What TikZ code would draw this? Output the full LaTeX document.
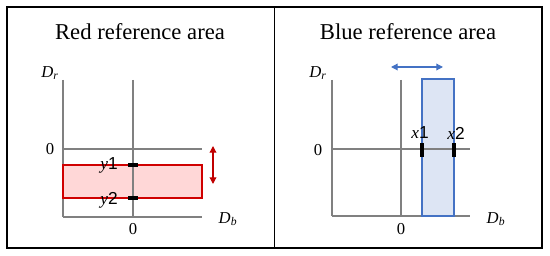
\documentclass[tikz,border=0pt]{standalone}
\usepackage{fontspec}
\setmainfont{Liberation Serif}
\newfontfamily\digitfont{Liberation Sans}
\usetikzlibrary{arrows.meta}
\definecolor{axisgray}{HTML}{808080}
\definecolor{redline}{HTML}{D00000}
\definecolor{redfill}{HTML}{FFD7D7}
\definecolor{darkred}{HTML}{C00000}
\definecolor{blueline}{HTML}{4472C4}
\definecolor{bluefill}{HTML}{DDE5F4}
\tikzset{
  frame/.style={line width=1.1pt, black},
  axis/.style={line width=0.8pt, axisgray},
  titletext/.style={font=\fontsize{17}{20}\selectfont, inner sep=0pt},
  lbl/.style={font=\fontsize{12.5}{14}\selectfont, inner sep=0pt},
  ticklbl/.style={font=\fontsize{13}{15}\selectfont, inner sep=0pt},
  tickbar/.style={line width=2.6pt, black},
  dblarrow/.style={line width=0.9pt, {Triangle[length=5pt,width=5pt]}-{Triangle[length=5pt,width=5pt]}},
}
\newcommand{\ylab}[1]{\textit{y}{\digitfont #1}}
\newcommand{\xlab}[1]{\textit{x}{\digitfont #1}}
\newcommand{\axlab}[1]{{\itshape D\textsubscript{#1}}}
\begin{document}
\begin{tikzpicture}[x=0.75pt,y=-0.75pt]
\useasboundingbox (0,0) rectangle (550,256);
% frames
\draw[frame] (7,7) rectangle (542,248);
\draw[frame] (274.5,7) -- (274.5,248);

% ---------- left panel ----------
\node[titletext] (tl) at (140,32) {Red reference area};
\coordinate (la1) at (63,80);  \coordinate (la2) at (63,217);
\coordinate (lm1) at (133,80); \coordinate (lm2) at (133,217);
\coordinate (lh1) at (63,149); \coordinate (lh2) at (202,149);
\coordinate (lb1) at (63,217); \coordinate (lb2) at (202,217);
\coordinate (rr1) at (63,165); \coordinate (rr2) at (202,198);
\fill[redfill] (rr1) rectangle (rr2);
\draw[axis] (la1) -- (la2);
\draw[axis] (lm1) -- (lm2);
\draw[axis] (lh1) -- (lh2);
\draw[axis] (lb1) -- (lb2);
\draw[redline, line width=0.9pt] (rr1) rectangle (rr2);
\coordinate (t1a) at (128,165); \coordinate (t1b) at (138,165);
\coordinate (t2a) at (128,198); \coordinate (t2b) at (138,198);
\draw[tickbar] (t1a) -- (t1b);
\draw[tickbar] (t2a) -- (t2b);
\node[ticklbl, anchor=east] (y1) at (118,165) {\ylab{1}};
\node[ticklbl, anchor=east] (y2) at (118,200) {\ylab{2}};
\node[lbl] (ldr) at (50,73) {\axlab{r}};
\node[lbl] (l0y) at (50,149) {0};
\node[lbl] (l0x) at (133,229) {0};
\node[lbl] (ldb) at (228,219) {\axlab{b}};
\coordinate (ra1) at (213,146); \coordinate (ra2) at (213,184);
\draw[dblarrow, darkred] (ra1) -- (ra2);

% ---------- right panel ----------
\node[titletext] (tr) at (408,32) {Blue reference area};
\coordinate (ra1b) at (332,80);  \coordinate (ra2b) at (332,216);
\coordinate (rm1) at (401,80); \coordinate (rm2) at (401,216);
\coordinate (rh1) at (332,149); \coordinate (rh2) at (470,149);
\coordinate (rb1) at (332,216); \coordinate (rb2) at (470,216);
\coordinate (br1) at (422,79); \coordinate (br2) at (454,216);
\fill[bluefill] (br1) rectangle (br2);
\draw[axis] (ra1b) -- (ra2b);
\draw[axis] (rm1) -- (rm2);
\draw[axis] (rh1) -- (rh2);
\draw[axis] (rb1) -- (rb2);
\draw[blueline, line width=0.9pt] (br1) rectangle (br2);
\coordinate (u1a) at (422,143); \coordinate (u1b) at (422,157);
\coordinate (u2a) at (454,143); \coordinate (u2b) at (454,157);
\draw[tickbar] (u1a) -- (u1b);
\draw[tickbar] (u2a) -- (u2b);
\node[ticklbl] (x1) at (420,133) {\xlab{1}};
\node[ticklbl] (x2) at (456,133) {\xlab{2}};
\node[lbl] (rdr) at (318,73) {\axlab{r}};
\node[lbl] (r0y) at (318,150) {0};
\node[lbl] (r0x) at (401,229) {0};
\node[lbl] (rdb) at (496,219) {\axlab{b}};
\coordinate (ba1) at (391,67); \coordinate (ba2) at (443,67);
\draw[dblarrow, blueline] (ba1) -- (ba2);
\end{tikzpicture}
\end{document}
